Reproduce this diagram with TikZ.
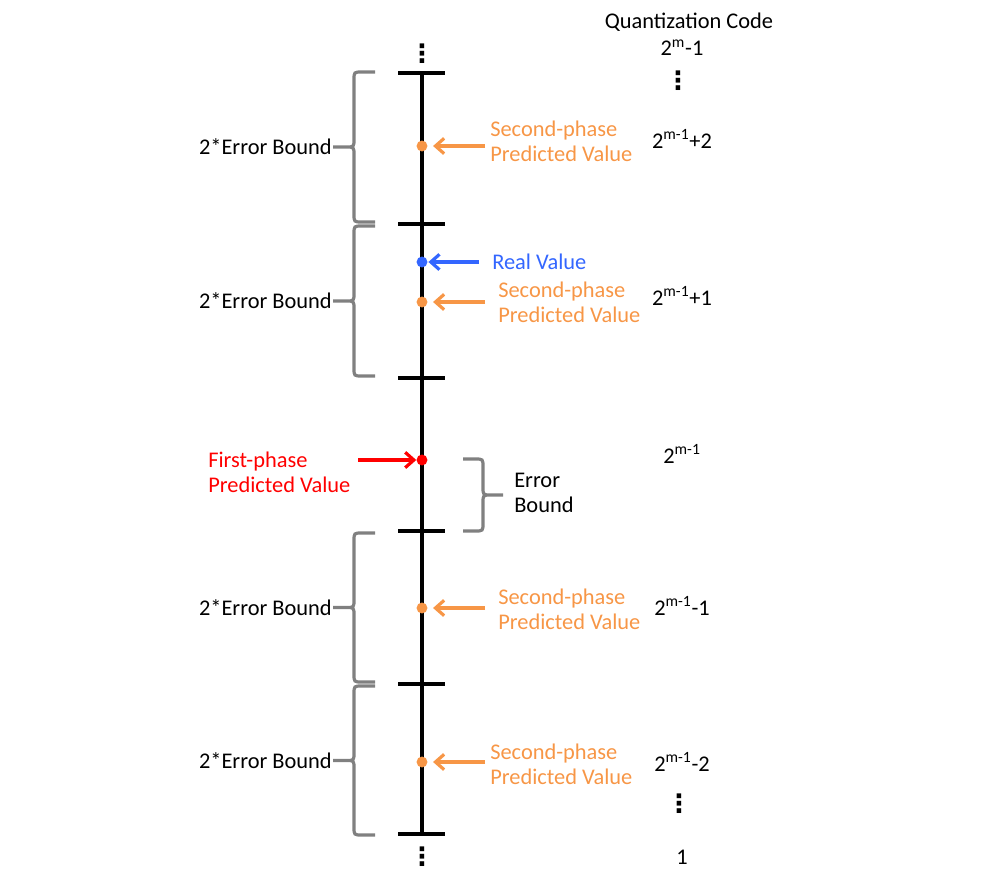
\documentclass[tikz,border=0pt]{standalone}
\usepackage{fontspec}
\setmainfont{Carlito}
\newfontfamily\dvfont{DejaVu Sans}
\usetikzlibrary{arrows.meta}
\definecolor{orng}{RGB}{247,150,70}
\definecolor{realblue}{RGB}{51,102,255}
\definecolor{bgray}{RGB}{128,128,128}
% brace: #1 end x, #2 spine x, #3 tip x, #4 top y, #5 bottom y
\newcommand\drawbrc[5]{%
  \pgfmathsetmacro\bm{(#4+#5)/2}%
  \pgfmathsetmacro\bs{(#2>#1)?8:-8}%
  \pgfmathsetmacro\ba{#2-\bs}%
  \pgfmathsetmacro\bb{#2+\bs}%
  \pgfmathsetmacro\ta{#4+8}%
  \pgfmathsetmacro\tb{\bm-8}%
  \pgfmathsetmacro\tc{\bm+8}%
  \pgfmathsetmacro\td{#5-8}%
  \draw[brcl] (#1,#4) -- (\ba,#4) .. controls (#2,#4) .. (#2,\ta) -- (#2,\tb)
     .. controls (#2,\bm) .. (\bb,\bm) -- (#3,\bm)
     (#3,\bm) -- (\bb,\bm) .. controls (#2,\bm) .. (#2,\tc) -- (#2,\td)
     .. controls (#2,#5) .. (\ba,#5) -- (#1,#5);
}
\begin{document}
\begin{tikzpicture}[x=0.75pt,y=-0.75pt,
  font=\fontsize{16.8}{18.75}\selectfont,
  axisline/.style={line width=2.5pt, draw=black},
  brcl/.style={draw=bgray, line width=2.4pt},
  ptdot/.style={circle, fill=#1, inner sep=0pt, minimum size=8.2pt},
  arr/.style={draw=#1, line width=2.4pt, -{Straight Barb[length=6.5pt,width=11.5pt,line width=2.4pt]}},
  lbl/.style={anchor=west, align=left, inner sep=0pt, text=#1},
  txt/.style={inner sep=0pt},
  vd/.style={inner sep=0pt, font=\dvfont\bfseries\fontsize{19}{19}\selectfont},
]
\path[use as bounding box] (0,0) rectangle (990,892);

% axis
\coordinate (axT) at (422,73);
\coordinate (axB) at (422,834);
\draw[axisline] (axT) -- (axB);
\foreach \i/\y in {1/73,2/224,3/378,4/531,5/684,6/834}{
  \coordinate (tkL\i) at (398,\y);
  \coordinate (tkR\i) at (445,\y);
  \draw[axisline] (tkL\i) -- (tkR\i);
}
\node[vd] (vdT) at (422,54) {⋮};
\node[vd] (vdB) at (422,857) {⋮};

% points
\node[ptdot=orng] (d1) at (422,146) {};
\node[ptdot=realblue] (dR) at (422,262) {};
\node[ptdot=orng] (d2) at (422,302) {};
\node[ptdot=red] (dF) at (422,460) {};
\node[ptdot=orng] (d3) at (422,608) {};
\node[ptdot=orng] (d4) at (422,762) {};

% labels on the right of the axis
\node[lbl=orng] (s1) at (490,141.5) {Second-phase\\Predicted Value};
\node[lbl=realblue] (real) at (492,262) {Real Value};
\node[lbl=orng] (s2) at (498,302.5) {Second-phase\\Predicted Value};
\node[lbl=orng] (s3) at (498,609.5) {Second-phase\\Predicted Value};
\node[lbl=orng] (s4) at (490,764.5) {Second-phase\\Predicted Value};
\node[lbl=red] (first) at (208,472) {First-phase\\Predicted Value};

% arrow tails
\coordinate (t1) at (485,146);
\coordinate (tR) at (479,262);
\coordinate (t2) at (485,302);
\coordinate (t3) at (485,608);
\coordinate (t4) at (485,762);
\coordinate (tF) at (358,460);
\draw[arr=orng, shorten >=4pt] (t1) -- (d1.east);
\draw[arr=realblue, shorten >=0.5pt] (tR) -- (dR.east);
\draw[arr=orng, shorten >=4pt] (t2) -- (d2.east);
\draw[arr=orng, shorten >=4pt] (t3) -- (d3.east);
\draw[arr=orng, shorten >=4pt] (t4) -- (d4.east);
\draw[arr=red] (tF) -- (dF.west);

% braces
\drawbrc{375}{354}{333}{72}{222}
\drawbrc{375}{354}{333}{226}{376}
\drawbrc{375}{354}{333}{533}{682}
\drawbrc{375}{354}{333}{686}{835}
\drawbrc{463}{483}{503}{459}{531}
\node[txt, anchor=east] (eb1) at (332,147) {2*Error Bound};
\node[txt, anchor=east] (eb2) at (332,301) {2*Error Bound};
\node[txt, anchor=east] (eb3) at (332,607.5) {2*Error Bound};
\node[txt, anchor=east] (eb4) at (332,760.5) {2*Error Bound};
\node[lbl=black] (err) at (514,493) {Error\\Bound};

% quantization codes
\node[txt] (qc) at (689,22) {Quantization Code};
\node[txt] (c0) at (682,48) {2\textsuperscript{m}-1};
\node[vd] (vdC1) at (678,81) {⋮};
\node[txt] (c1) at (682,139) {2\textsuperscript{m-1}+2};
\node[txt] (c2) at (682,296) {2\textsuperscript{m-1}+1};
\node[txt] (c3) at (682,454) {2\textsuperscript{m-1}};
\node[txt] (c4) at (682,606) {2\textsuperscript{m-1}-1};
\node[txt] (c5) at (682,762) {2\textsuperscript{m-1}-2};
\node[vd] (vdC2) at (679,804) {⋮};
\node[txt] (c6) at (682,857) {1};
\end{tikzpicture}
\end{document}
